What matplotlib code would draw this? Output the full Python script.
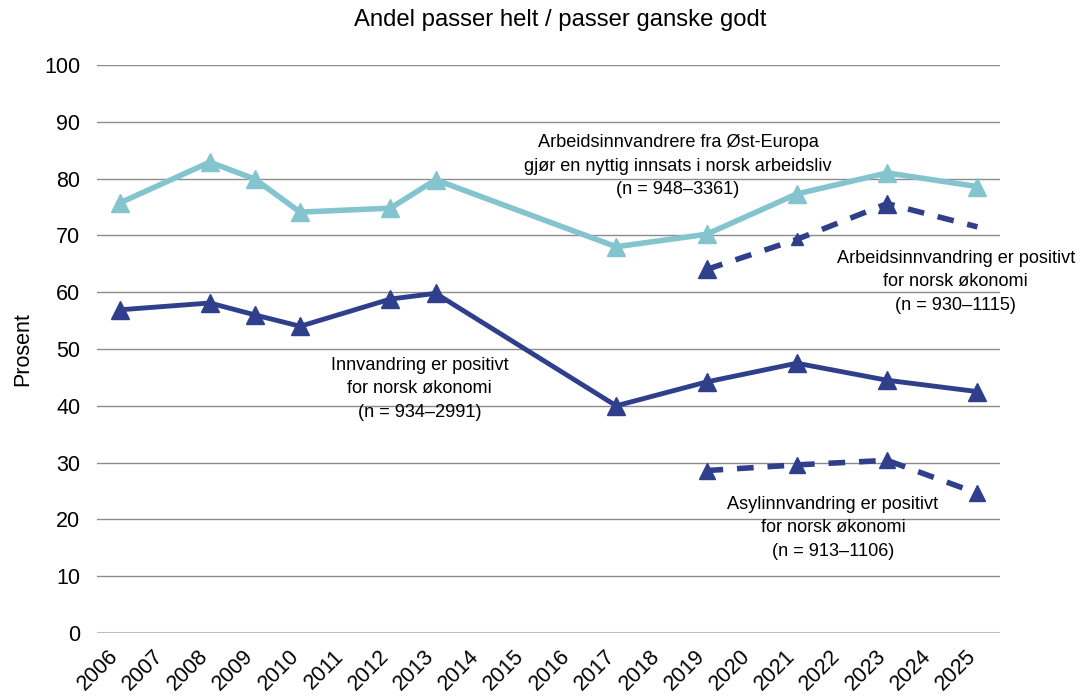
import numpy as np
import matplotlib
matplotlib.rcParams['font.family'] = ['Liberation Sans', 'DejaVu Sans']
import matplotlib.pyplot as plt
from matplotlib.transforms import ScaledTranslation

years = [str(y) for y in range(2006, 2026)]

# light blue: Arbeidsinnvandrere fra Øst-Europa
oe_years = ['2006', '2008', '2009', '2010', '2012', '2013', '2017', '2019', '2021', '2023', '2025']
oe_vals = [75.7, 82.9, 79.9, 74.1, 74.8, 79.8, 68.0, 70.2, 77.3, 81.0, 78.6]

# dark solid: Innvandring er positivt
inn_years = ['2006', '2008', '2009', '2010', '2012', '2013', '2017', '2019', '2021', '2023', '2025']
inn_vals = [56.9, 58.1, 56.0, 54.0, 58.8, 59.8, 40.0, 44.2, 47.5, 44.5, 42.5]

# dashed: Arbeidsinnvandring
arb_years = ['2019', '2021', '2023', '2025']
arb_vals = [64.0, 69.3, 75.6, 71.5]

# dashed: Asylinnvandring
asyl_years = ['2019', '2021', '2023', '2025']
asyl_vals = [28.6, 29.6, 30.4, 24.6]

light = '#84c4cf'
dark = '#2f3f8c'

fig = plt.figure(figsize=[10.86, 6.99], dpi=100)
ax = fig.add_axes([0.0893, 0.0944, 0.8315, 0.8126])

def xpos(ys):
    return [years.index(y) for y in ys]

ax.plot(xpos(oe_years), oe_vals, color=light, lw=4, marker='^', ms=13, zorder=3)
ax.plot(xpos(inn_years), inn_vals, color=dark, lw=3.5, marker='^', ms=13, zorder=3)
ax.plot(xpos(arb_years), arb_vals, color=dark, lw=4, ls=(0, (3, 2.5)), marker='^', ms=13,
        markevery=[0, 2], zorder=3)
ax.plot(xpos(arb_years)[1], arb_vals[1], color=dark, marker='^', ms=9, zorder=3)
ax.plot(xpos(asyl_years), asyl_vals, color=dark, lw=4, ls=(0, (3, 2.5)), marker='^', ms=11, zorder=3)

ax.set_xlim(-0.5, len(years) - 0.5)
ax.set_ylim(0, 100)
ax.set_yticks(range(0, 101, 10))
ax.set_xticks(range(len(years)))
ax.set_xticklabels([])
# rotated year labels, placed like the original
off = ax.get_xaxis_transform() + ScaledTranslation(-12 / 100, -13 / 100, fig.dpi_scale_trans)
for i, y in enumerate(years):
    ax.text(i, 0, y, transform=off, rotation=45, ha='right', va='top',
            rotation_mode='anchor', fontsize=15.5)
ax.tick_params(length=0, labelsize=15.5)
ax.tick_params(axis='y', pad=12)
ax.grid(axis='y', color='#8c8c8c', lw=1)
ax.set_axisbelow(True)
for s in ax.spines.values():
    s.set_visible(False)
ax.axhline(0, color='#bfbfbf', lw=1.5, zorder=1)

ax.set_ylabel('Prosent', fontsize=15.5, labelpad=8)
fig.text(560 / 1086, 1 - 20 / 699, 'Andel passer helt / passer ganske godt', fontsize=17.2,
         ha='center', va='center')

kw = dict(fontsize=13.1, ha='center', va='center', linespacing=1.48, clip_on=False)
ax.text(12.37, 82.2, 'Arbeidsinnvandrere fra Øst-Europa\ngjør en nyttig innsats i norsk arbeidsliv\n(n = 948–3361)', **kw)
ax.text(18.52, 61.8, 'Arbeidsinnvandring er positivt\nfor norsk økonomi\n(n = 930–1115)', **kw)
ax.text(6.65, 43.0, 'Innvandring er positivt\nfor norsk økonomi\n(n = 934–2991)', **kw)
ax.text(15.8, 18.5, 'Asylinnvandring er positivt\nfor norsk økonomi\n(n = 913–1106)', **kw)

fig.savefig('out.png', dpi=100)
